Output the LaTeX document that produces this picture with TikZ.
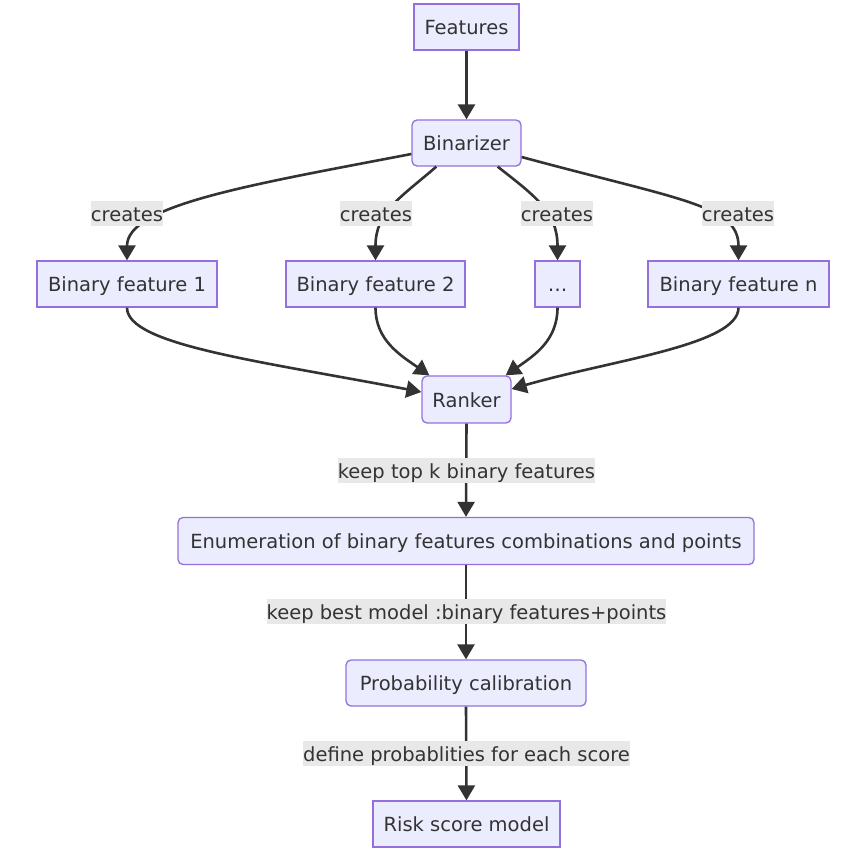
\documentclass[tikz,border=0pt]{standalone}
\usepackage{fontspec}
\setmainfont{DejaVu Sans}
\usetikzlibrary{arrows.meta,calc}
\definecolor{nodefill}{HTML}{ECECFF}
\definecolor{nodeborder}{HTML}{9370DB}
\definecolor{edgecol}{HTML}{333333}
\definecolor{labelbg}{HTML}{E8E8E8}
\definecolor{txt}{HTML}{333333}
\tikzset{
  box/.style={draw=nodeborder, fill=nodefill, line width=1.3pt, inner sep=0pt,
    minimum height=46pt, text=txt, text height=17.5pt, text depth=2.5pt,
    font=\fontsize{19.5}{23}\selectfont},
  rbox/.style={box, rounded corners=5pt},
  elabel/.style={fill=labelbg, inner sep=0pt, minimum height=25pt, text=txt,
    text height=17.5pt, text depth=2.5pt, font=\fontsize{19.5}{23}\selectfont},
  conn/.style={draw=edgecol, line width=2.6pt, -{Triangle[length=15pt,width=17pt]}}
}
\begin{document}
\begin{tikzpicture}[x=1pt,y=-1pt]
\useasboundingbox (0,0) rectangle (849,855);
% nodes
\node[box,  minimum width=105pt] (feat) at (466.5,27) {Features};
\node[rbox, minimum width=109pt] (bin)  at (466.5,143) {Binarizer};
\node[box,  minimum width=180pt] (bf1)  at (127,284) {Binary feature 1};
\node[box,  minimum width=179pt] (bf2)  at (375.5,284) {Binary feature 2};
\node[box,  minimum width=45pt]  (dots) at (557.5,284) {…};
\node[box,  minimum width=181pt] (bfn)  at (738.5,284) {Binary feature n};
\node[rbox, minimum width=89pt, minimum height=47pt] (rank) at (466.5,399.5) {Ranker};
\node[rbox, minimum width=576pt, minimum height=47pt] (enum) at (466,541) {Enumeration of binary features combinations and points};
\node[rbox, minimum width=240pt] (prob) at (466,683) {Probability calibration};
\node[box,  minimum width=187pt] (risk) at (466.5,824) {Risk score model};
% connectors
\draw[conn] (feat.south) -- (bin.north);
\draw[conn] ($(bin.west)+(0,11)$) .. controls (250,185) and (127,205) .. (bf1.north);
\draw[conn] ($(bin.south west)+(25,0)$) .. controls (400,198) and (375.5,212) .. (bf2.north);
\draw[conn] ($(bin.south east)+(-24,0)$) .. controls (535,196) and (557.5,212) .. (dots.north);
\draw[conn] ($(bin.east)+(0,14)$) .. controls (680,200) and (738.5,205) .. (bfn.north);
\draw[conn] (bf1.south) .. controls (127,345) and (260,361) .. ($(rank.west)+(0,-7.5)$);
\draw[conn] (bf2.south) .. controls (375.5,340) and (400,355) .. ($(rank.north west)+(8,0)$);
\draw[conn] (dots.south) .. controls (557.5,340) and (535,355) .. ($(rank.north east)+(-6,0)$);
\draw[conn] (bfn.south) .. controls (738.5,345) and (612,360) .. ($(rank.east)+(0,-10.5)$);
\draw[conn] (rank.south) -- (enum.north);
\draw[conn] (enum.south) -- (prob.north);
\draw[conn] (prob.south) -- (risk.north);
% edge labels
\node[elabel, minimum width=72pt] (l1) at (127,213.5) {creates};
\node[elabel, minimum width=72pt] (l2) at (376,213.5) {creates};
\node[elabel, minimum width=72pt] (l3) at (557,213.5) {creates};
\node[elabel, minimum width=72pt] (l4) at (738,213.5) {creates};
\node[elabel] (l5) at (466.5,470.5) {keep top k binary features};
\node[elabel] (l6) at (466.5,611.5) {keep best model :binary features+points};
\node[elabel] (l7) at (466.5,753.5) {define probablities for each score};
\end{tikzpicture}
\end{document}
